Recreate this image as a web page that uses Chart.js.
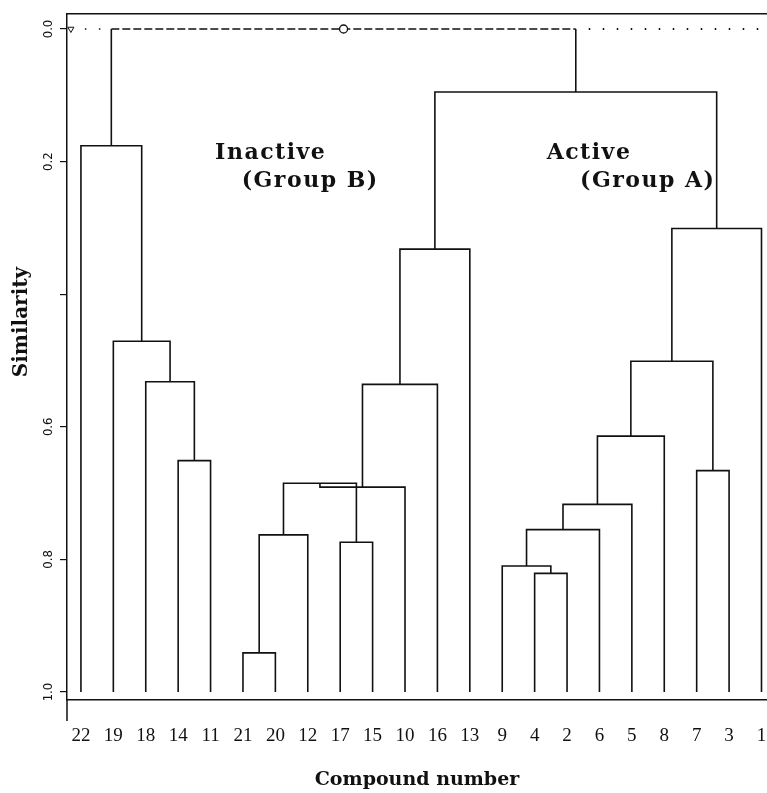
<!DOCTYPE html>
<html>
<head>
<meta charset="utf-8">
<script src="https://cdn.jsdelivr.net/npm/chart.js@4/dist/chart.umd.min.js"></script>
<style>
html, body { margin: 0; padding: 0; background: #fff; overflow: hidden; }
canvas { display: block; }
</style>
</head>
<body>
<canvas id="dendro" width="767" height="793"></canvas>
<script>
'use strict';

// leaves, left to right as printed under the axis
const leafLabels = ['22', '19', '18', '14', '11', '21', '20', '12', '17', '15', '10',
  '16', '13', '9', '4', '2', '6', '5', '8', '7', '3', '1'];

// merges: ids 0..21 are leaves, merge k gets id 22 + k
const mergeLeft   = [3, 2, 1, 0, 5, 26, 8, 27, 29, 30, 31, 14, 13, 34, 35, 36, 19, 37, 39, 32, 25];
const mergeRight  = [4, 22, 23, 24, 6, 7, 9, 28, 10, 11, 12, 15, 33, 16, 17, 18, 20, 38, 21, 40, 41];
const mergeHeight = [0.651, 0.532, 0.471, 0.176, 0.941, 0.763, 0.774, 0.685, 0.691, 0.536, 0.332,
  0.821, 0.810, 0.755, 0.717, 0.614, 0.666, 0.501, 0.301, 0.095, 0.0];

const yTickValues = [0, 0.2, 0.4, 0.6, 0.8, 1.0];
const yTickLabels = ['0.0', '0.2', '', '0.6', '0.8', '1.0'];

const noteText = ['Inactive', '(Group B)', 'Active', '(Group A)'];

const INK = '#111';
const LEAF_BASE = 1.0;
const X_MIN = -0.43, X_MAX = 21.17;

// node positions / heights
const pos = leafLabels.map((_, i) => i);
const hgt = leafLabels.map(() => LEAF_BASE);
mergeHeight.forEach((h, k) => {
  pos.push((pos[mergeLeft[k]] + pos[mergeRight[k]]) / 2);
  hgt.push(h);
});

const datasets = [];
function seg(pts, extra) {
  datasets.push(Object.assign({
    data: pts,
    showLine: true,
    borderColor: INK,
    borderWidth: 1.6,
    borderJoinStyle: 'miter',
    pointRadius: 0,
    fill: false,
    clip: false,
  }, extra || {}));
}

const last = mergeHeight.length - 1;
mergeHeight.forEach((h, k) => {
  const a = mergeLeft[k], b = mergeRight[k];
  if (k === last) {
    seg([{x: pos[a], y: hgt[a]}, {x: pos[a], y: h}]);
    seg([{x: pos[b], y: hgt[b]}, {x: pos[b], y: h}]);
    // root join is drawn dashed, with a ring at its centre
    seg([{x: pos[a], y: h}, {x: (pos[a] + pos[b]) / 2, y: h}, {x: pos[b], y: h}], {
      borderDash: [8, 3],
      pointRadius: [0, 4, 0],
      pointStyle: 'circle',
      pointBackgroundColor: '#fff',
      pointBorderColor: INK,
      pointBorderWidth: 1.3,
    });
    // dotted cut line either side
    seg([{x: X_MIN + 0.12, y: h}, {x: pos[a], y: h}], {
      borderDash: [1.5, 12.5],
      pointRadius: [3.5, 0],
      pointStyle: 'triangle',
      rotation: 180,
      pointBackgroundColor: '#fff',
      pointBorderColor: INK,
      pointBorderWidth: 1,
    });
    seg([{x: pos[b] + 0.4, y: h}, {x: X_MAX, y: h}], {borderDash: [1.5, 12.5], borderWidth: 1.8});
  } else {
    seg([{x: pos[a], y: hgt[a]}, {x: pos[a], y: h}, {x: pos[b], y: h}, {x: pos[b], y: hgt[b]}]);
  }
});

const notePos = [{x: 4.14, y: 0.196}, {x: 4.96, y: 0.238}, {x: 14.37, y: 0.196}, {x: 15.4, y: 0.238}];

const extras = {
  id: 'extras',
  afterDraw(chart) {
    const {ctx, chartArea, scales: {x, y}} = chart;
    ctx.save();
    ctx.fillStyle = INK;
    ctx.font = 'bold 22px "DejaVu Serif"';
    ctx.letterSpacing = '1.5px';
    ctx.textBaseline = 'alphabetic';
    noteText.forEach((t, i) => {
      ctx.fillText(t, x.getPixelForValue(notePos[i].x), y.getPixelForValue(notePos[i].y));
    });
    // y axis title
    ctx.letterSpacing = '0px';
    ctx.font = 'bold 20px "DejaVu Serif"';
    ctx.textAlign = 'center';
    ctx.textBaseline = 'middle';
    ctx.translate(22, y.getPixelForValue(0.442));
    ctx.rotate(-Math.PI / 2);
    ctx.fillText('Similarity', 0, 0);
    ctx.restore();
    // axis line runs a little past the base line
    ctx.save();
    ctx.strokeStyle = INK;
    ctx.lineWidth = 1.5;
    ctx.beginPath();
    ctx.moveTo(chartArea.left, chartArea.bottom);
    ctx.lineTo(chartArea.left, chartArea.bottom + 21);
    ctx.stroke();
    ctx.restore();
  }
};

new Chart(document.getElementById('dendro'), {
  type: 'scatter',
  data: {datasets: datasets},
  plugins: [extras],
  options: {
    responsive: false,
    animation: false,
    layout: {padding: 0, autoPadding: false},
    plugins: {legend: {display: false}, tooltip: {enabled: false}},
    scales: {
      x: {
        type: 'linear',
        position: 'bottom',
        min: X_MIN,
        max: X_MAX,
        afterBuildTicks: (scale) => { scale.ticks = leafLabels.map((_, i) => ({value: i})); },
        afterFit: (scale) => {
          scale.height = 93;
          scale.paddingLeft = 0;
          scale.paddingRight = 0;
        },
        // invisible tick marks push the labels down without adding side padding
        grid: {display: true, drawOnChartArea: false, drawTicks: true, tickLength: 25, color: 'rgba(0,0,0,0)'},
        border: {display: true, color: INK, width: 1.5},
        ticks: {
          autoSkip: false,
          maxRotation: 0,
          padding: 0,
          color: INK,
          font: {family: '"Liberation Serif", serif', size: 19},
          callback: (v) => leafLabels[v],
        },
        title: {
          display: true,
          text: 'Compound number',
          color: INK,
          font: {family: '"DejaVu Serif", serif', size: 19, weight: 'bold'},
          padding: {top: 0, bottom: 2},
        },
      },
      xTop: {
        type: 'linear',
        position: 'top',
        min: X_MIN,
        max: X_MAX,
        afterFit: (scale) => { scale.height = 14; },
        grid: {display: false, drawTicks: false},
        border: {display: true, color: INK, width: 1.5},
        ticks: {display: false},
      },
      y: {
        type: 'linear',
        reverse: true,
        min: -0.0226,
        max: 1.012,
        afterBuildTicks: (scale) => { scale.ticks = yTickValues.map((v) => ({value: v})); },
        afterFit: (scale) => { scale.width = 67; },
        grid: {display: true, drawOnChartArea: false, drawTicks: true, tickLength: 7, color: INK, lineWidth: 1.2},
        border: {display: true, color: INK, width: 1.5},
        ticks: {
          autoSkip: false,
          minRotation: 90,
          maxRotation: 90,
          crossAlign: 'center',
          padding: 2,
          color: INK,
          font: {family: '"DejaVu Sans Condensed", "DejaVu Sans", sans-serif', size: 13},
          callback: (v) => yTickLabels[yTickValues.indexOf(v)],
        },
      },
    },
  },
});
</script>
</body>
</html>
